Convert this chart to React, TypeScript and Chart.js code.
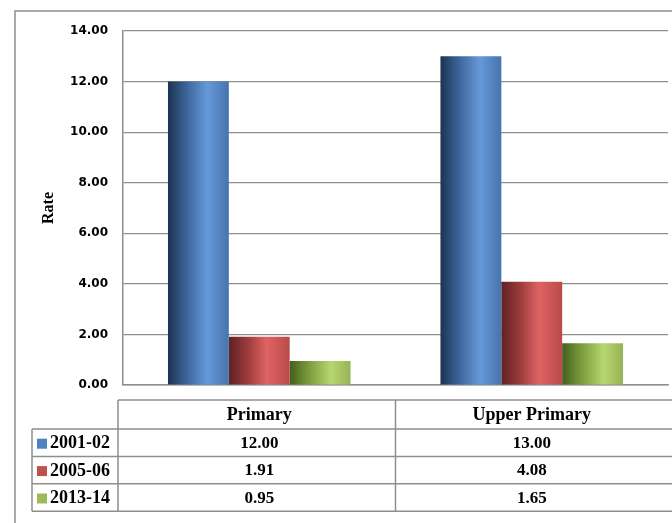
import React, { useEffect, useRef } from "react";
import { Chart, registerables } from "chart.js";

Chart.register(...registerables);

// Categories and series values
const categories = ["Primary", "Upper Primary"];
const seriesNames = ["2001-02", "2005-06", "2013-14"];
const values2001 = [12.0, 13.0];
const values2005 = [1.91, 4.08];
const values2013 = [0.95, 1.65];
const seriesValues = [values2001, values2005, values2013];

// Axis range
const yMin = 0;
const yMax = 14;
const yStep = 2;

// Flat legend colours and the shaded cylinder stops for each series
const markerColors = ["#4f81bd", "#c0504d", "#9bbb59"];
const shadeStops: [number, string][][] = [
  [[0, "#1c3352"], [0.3, "#3c6499"], [0.65, "#6699da"], [1, "#4673ad"]],
  [[0, "#5e2223"], [0.3, "#9a3a3b"], [0.62, "#df6363"], [1, "#b94a4a"]],
  [[0, "#435e1c"], [0.3, "#789a3c"], [0.68, "#b7d66e"], [1, "#96b456"]],
];

const LINE = "#8e8e8e";
const SERIF = "'Liberation Serif', 'Times New Roman', serif";

const cylinderShade = {
  id: "cylinderShade",
  beforeDatasetsDraw(chart: any) {
    const ctx = chart.ctx as CanvasRenderingContext2D;
    chart.data.datasets.forEach((_: any, di: number) => {
      const meta = chart.getDatasetMeta(di);
      meta.data.forEach((el: any) => {
        const { x, width } = el.getProps(["x", "width"], true);
        const g = ctx.createLinearGradient(x - width / 2, 0, x + width / 2, 0);
        shadeStops[di].forEach(([p, c]) => g.addColorStop(p, c));
        el.options = Object.assign({}, el.options, { backgroundColor: g });
      });
    });
  },
};

const frameAndTable = {
  id: "frameAndTable",
  beforeDraw(chart: any) {
    const ctx = chart.ctx as CanvasRenderingContext2D;
    ctx.save();
    ctx.strokeStyle = LINE;
    ctx.lineWidth = 1.5;
    ctx.beginPath();
    ctx.moveTo(15, chart.height);
    ctx.lineTo(15, 11);
    ctx.lineTo(chart.width, 11);
    ctx.stroke();
    ctx.restore();
  },
  afterDraw(chart: any) {
    const ctx = chart.ctx as CanvasRenderingContext2D;
    const area = chart.chartArea;
    const xs = chart.scales.x;
    const centers = categories.map((_, i) => xs.getPixelForValue(i));
    const colLeft = area.left - 5;
    const colMid = (centers[0] + centers[1]) / 2;
    const right = chart.width;
    const legendLeft = 32;
    const top = area.bottom + 15;
    const headerH = 29;
    const rowH = 27.4;
    const rowTops = seriesNames.map((_, i) => top + headerH + i * rowH);
    const bottom = top + headerH + seriesNames.length * rowH;

    ctx.save();
    ctx.strokeStyle = LINE;
    ctx.lineWidth = 1.5;
    ctx.beginPath();
    ctx.moveTo(colLeft, top);
    ctx.lineTo(right, top);
    [...rowTops, bottom].forEach((y) => {
      ctx.moveTo(legendLeft, y);
      ctx.lineTo(right, y);
    });
    ctx.moveTo(colLeft, top);
    ctx.lineTo(colLeft, bottom);
    ctx.moveTo(colMid, top);
    ctx.lineTo(colMid, bottom);
    ctx.moveTo(legendLeft, rowTops[0]);
    ctx.lineTo(legendLeft, bottom);
    ctx.stroke();

    ctx.fillStyle = "#000";
    ctx.textBaseline = "middle";
    ctx.textAlign = "center";
    ctx.font = `bold 18px ${SERIF}`;
    categories.forEach((c, i) => ctx.fillText(c, centers[i], top + headerH / 2 + 1));

    seriesNames.forEach((name, si) => {
      const cy = rowTops[si] + rowH / 2 + 1;
      ctx.fillStyle = markerColors[si];
      ctx.fillRect(37, cy - 5, 10, 10);
      ctx.fillStyle = "#000";
      ctx.textAlign = "left";
      ctx.font = `bold 18px ${SERIF}`;
      ctx.fillText(name, 50, cy);
      ctx.textAlign = "center";
      ctx.font = `bold 17px ${SERIF}`;
      seriesValues[si].forEach((v, ci) => ctx.fillText(v.toFixed(2), centers[ci], cy));
    });
    ctx.restore();
  },
};

export default function App() {
  const ref = useRef<HTMLCanvasElement | null>(null);

  useEffect(() => {
    if (!ref.current) return;
    const chart = new Chart(ref.current, {
      type: "bar",
      data: {
        labels: categories,
        datasets: seriesNames.map((name, i) => ({
          label: name,
          data: seriesValues[i],
          backgroundColor: markerColors[i],
          borderWidth: 0,
          categoryPercentage: 0.67,
          barPercentage: 1,
        })),
      },
      options: {
        responsive: false,
        animation: false,
        devicePixelRatio: 1,
        layout: { padding: { left: 0, top: 31, right: 4, bottom: 138 } },
        plugins: { legend: { display: false }, tooltip: { enabled: false } },
        scales: {
          x: {
            ticks: { display: false },
            grid: { display: false, drawTicks: false },
            border: { display: true, color: LINE, width: 1.5 },
            afterFit: (s: any) => {
              s.height = 0;
            },
          },
          y: {
            min: yMin,
            max: yMax,
            ticks: {
              stepSize: yStep,
              padding: 15,
              color: "#000",
              font: { family: "'DejaVu Sans', sans-serif", size: 12, weight: "bold" },
              callback: (v: any) => Number(v).toFixed(2),
            },
            grid: { color: LINE, lineWidth: 1.2, drawTicks: false },
            border: { display: true, color: LINE, width: 1.5 },
            title: {
              display: true,
              text: "Rate",
              color: "#000",
              font: { family: SERIF, size: 16, weight: "bold" },
              padding: { top: 39, bottom: 0 },
            },
            afterFit: (s: any) => {
              s.width = 123;
            },
          },
        },
      },
      plugins: [cylinderShade, frameAndTable],
    });
    return () => chart.destroy();
  }, []);

  return (
    <div style={{ position: "fixed", left: 0, top: 0, width: 672, height: 523, background: "#fff" }}>
      <canvas ref={ref} width={672} height={523} style={{ display: "block" }} />
    </div>
  );
}
